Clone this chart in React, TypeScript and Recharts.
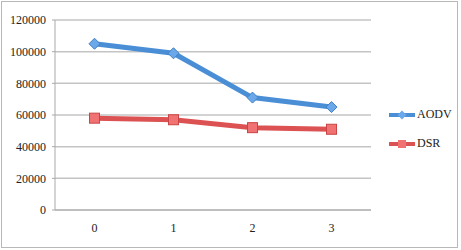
import { LineChart, Line, XAxis, YAxis, CartesianGrid } from 'recharts'

const categories = ['0', '1', '2', '3']
const aodv = [105000, 99000, 71000, 65000]
const dsr = [58000, 57000, 52000, 51000]
const yTicks = [0, 20000, 40000, 60000, 80000, 100000, 120000]

const data = categories.map((c, i) => ({ name: c, AODV: aodv[i], DSR: dsr[i] }))

const BLUE = '#4a8fd6'
const RED = '#dc5252'
const FAMILY = '"Liberation Serif", "Times New Roman", serif'
const font = { fontFamily: FAMILY, fontSize: 12, fill: '#222' }

const Diamond = (props: any) => {
  const { cx, cy, key } = props
  const r = 5.5
  return (
    <polygon
      key={key}
      points={`${cx},${cy - r} ${cx + r},${cy} ${cx},${cy + r} ${cx - r},${cy}`}
      fill="#6aa8ea"
      stroke="#3f7fc4"
      strokeWidth={1}
    />
  )
}

const Square = (props: any) => {
  const { cx, cy, key } = props
  const s = 5
  return (
    <rect key={key} x={cx - s} y={cy - s} width={s * 2} height={s * 2} fill="#f07272" stroke="#c94444" strokeWidth={1} />
  )
}

function LegendBox() {
  const items = [
    { name: 'AODV', color: BLUE, fill: '#6aa8ea', shape: 'd' },
    { name: 'DSR', color: RED, fill: '#f07272', shape: 's' },
  ]
  return (
    <div style={{ position: 'absolute', left: 388, top: 100, fontFamily: FAMILY, fontSize: 12, color: '#222' }}>
      {items.map((it) => (
        <div key={it.name} style={{ display: 'flex', alignItems: 'center', height: 29 }}>
          <svg width={28} height={12}>
            <line x1={1} y1={6} x2={27} y2={6} stroke={it.color} strokeWidth={4} />
            {it.shape === 'd' ? (
              <polygon points="14,1.5 18.5,6 14,10.5 9.5,6" fill={it.fill} />
            ) : (
              <rect x={10} y={2} width={8} height={8} fill={it.fill} />
            )}
          </svg>
          <span style={{ marginLeft: 1 }}>{it.name}</span>
        </div>
      ))}
    </div>
  )
}

export default function App() {
  return (
    <div style={{ position: 'absolute', left: 0, top: 0, width: 461, height: 250, background: '#fff' }}>
      <div
        style={{
          position: 'absolute',
          left: 1,
          top: 1,
          width: 457,
          height: 247,
          border: '1px solid #b8b8b8',
          boxSizing: 'border-box',
        }}
      />
      <LineChart width={461} height={250} data={data} margin={{ top: 20, right: 90, bottom: 10, left: 0 }}>
        <CartesianGrid vertical={false} stroke="#c4c4c4" strokeWidth={1.5} />
        <XAxis
          dataKey="name"
          stroke="#aaa"
          padding={{ left: 39.5, right: 39.5 }}
          tickLine={false}
          tickSize={0}
          tickMargin={13}
          tick={font}
        />
        <YAxis
          width={55}
          domain={[0, 120000]}
          ticks={yTicks}
          interval={0}
          stroke="#aaa"
          tickSize={3}
          tickMargin={6}
          tick={font}
        />
        <Line
          dataKey="AODV"
          stroke={BLUE}
          strokeWidth={5}
          dot={Diamond}
          activeDot={false}
          isAnimationActive={false}
        />
        <Line
          dataKey="DSR"
          stroke={RED}
          strokeWidth={5}
          dot={Square}
          activeDot={false}
          isAnimationActive={false}
        />
      </LineChart>
      <LegendBox />
    </div>
  )
}
